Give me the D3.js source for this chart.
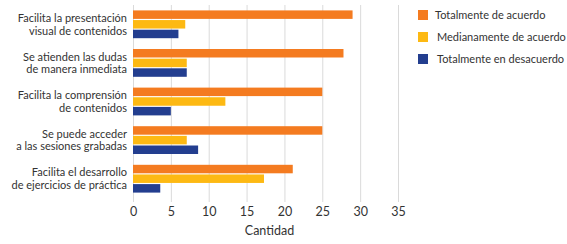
<!DOCTYPE html>
<html>
<head>
<meta charset="utf-8">
<script src="https://cdn.jsdelivr.net/npm/d3@7"></script>
<style>
  body { margin: 0; background: #fff; }
  text { font-family: Lato, "Open Sans", sans-serif; fill: #333; }
</style>
</head>
<body>
<script>
var categories = [
  ["Facilita la presentación", "visual de contenidos"],
  ["Se atienden las dudas", "de manera inmediata"],
  ["Facilita la comprensión", "de contenidos"],
  ["Se puede acceder", "a las sesiones grabadas"],
  ["Facilita el desarrollo", "de ejercicios de práctica"]
];
var seriesNames = ["Totalmente de acuerdo", "Medianamente de acuerdo", "Totalmente en desacuerdo"];
var totalAcuerdo = [29, 27.8, 25, 25, 21.1];
var medianamente = [6.9, 7.1, 12.2, 7.1, 17.3];
var desacuerdo = [6, 7.1, 5, 8.6, 3.6];
var xTicks = [0, 5, 10, 15, 20, 25, 30, 35];
var colors = ["#F47B20", "#FDB913", "#233E8F"];

var series = [totalAcuerdo, medianamente, desacuerdo];

var margin = {top: 5, right: 169, bottom: 46, left: 133};
var W = 567, H = 244;
var w = W - margin.left - margin.right;
var h = H - margin.top - margin.bottom;

var svg = d3.select("body").append("svg")
    .attr("width", W)
    .attr("height", H);

var g = svg.append("g")
    .attr("transform", "translate(" + margin.left + "," + margin.top + ")");

var x = d3.scaleLinear().domain([0, 35]).range([0, w]);

var y = d3.scaleBand()
    .domain(d3.range(categories.length))
    .range([0, h])
    .paddingInner(0.28)
    .paddingOuter(0.14);

var ySub = d3.scaleBand()
    .domain(d3.range(series.length))
    .range([0, y.bandwidth()])
    .paddingInner(0.12);

// grid
g.selectAll("line.grid").data(xTicks).enter()
  .append("line")
    .attr("class", "grid")
    .attr("x1", function(d) { return x(d) + 0.5; })
    .attr("x2", function(d) { return x(d) + 0.5; })
    .attr("y1", 0)
    .attr("y2", h + 4)
    .attr("stroke", "#dadada")
    .attr("stroke-width", 1);

// bars
series.forEach(function(vals, s) {
  g.selectAll("rect.s" + s).data(vals).enter()
    .append("rect")
      .attr("class", "s" + s)
      .attr("x", x(0))
      .attr("y", function(d, i) { return y(i) + ySub(s); })
      .attr("width", function(d) { return x(d) - x(0); })
      .attr("height", ySub.bandwidth())
      .attr("fill", colors[s]);
});

// x axis labels
var xAxis = g.append("g")
    .attr("transform", "translate(0," + h + ")")
    .call(d3.axisBottom(x).tickValues(xTicks).tickSize(0).tickPadding(9));
xAxis.select(".domain").remove();
xAxis.selectAll("text")
    .style("font-size", "12.5px")
    .style("font-family", "Lato, 'Open Sans', sans-serif")
    .attr("fill", "#333");

g.append("text")
    .attr("x", w / 2 + 4)
    .attr("y", h + 37)
    .attr("text-anchor", "middle")
    .style("font-size", "12.5px")
    .text("Cantidad");

// category labels
var catG = g.selectAll("g.cat").data(categories).enter()
  .append("g")
    .attr("class", "cat")
    .attr("transform", function(d, i) { return "translate(-6," + (y(i) + y.bandwidth() / 2) + ")"; });
catG.each(function(d) {
  var t = d3.select(this).append("text")
      .attr("text-anchor", "end")
      .style("font-size", "11px");
  d.forEach(function(line, j) {
    t.append("tspan")
      .attr("x", 0)
      .attr("y", (j - 0.5) * 12.5 + 4)
      .text(line);
  });
});

// legend
var legend = svg.append("g")
    .attr("transform", "translate(418,10)");
var li = legend.selectAll("g").data(seriesNames).enter()
  .append("g")
    .attr("transform", function(d, i) { return "translate(0," + (i * 22) + ")"; });
li.append("rect")
    .attr("width", 10)
    .attr("height", 10)
    .attr("fill", function(d, i) { return colors[i]; });
li.append("text")
    .attr("x", function(d, i) { return i === 0 ? 17 : 19; })
    .attr("y", 9)
    .style("font-size", "11px")
    .text(function(d) { return d; });
</script>
</body>
</html>
